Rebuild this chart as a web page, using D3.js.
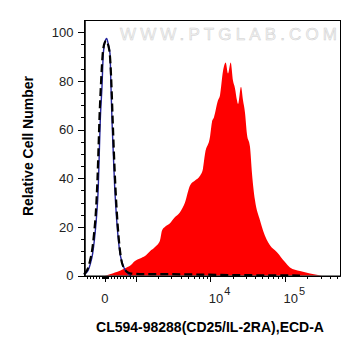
<!DOCTYPE html>
<html>
<head>
<meta charset="utf-8">
<script src="https://cdn.jsdelivr.net/npm/d3@7"></script>
<style>
  html, body { margin: 0; padding: 0; background: #fff; }
  svg { display: block; font-family: "Liberation Sans", Arial, sans-serif; }
</style>
</head>
<body>
<svg id="chart" width="361" height="356"></svg>
<script>
// ---------- data (fluorescence intensity vs relative cell number) ----------
const redX = [0, 163, 326, 489, 652, 815, 978, 1143, 1334, 1556, 1815, 2118, 2254, 2472, 2884, 3365, 3926, 4581, 5346, 6237, 7278, 7980, 8492, 9908, 10520, 11194, 12676, 13466, 14791, 16069, 17258, 18750, 20137, 21380, 22751, 23496, 25763, 27416, 29107, 30974, 33963, 36141, 39628, 46238, 50816, 62951, 78163, 100000, 116681, 158866, 216272, 276694, 313329];
const redY = [0, 0.5, 1.2, 2, 3, 4, 6, 7, 8, 10, 11.7, 14.4, 18.5, 20, 21.5, 24, 26, 30, 37, 39, 41, 44, 50, 57, 63, 65, 72, 74, 84, 87.5, 83, 87.5, 80, 77, 72, 70.5, 77.6, 72, 67, 58, 53, 42, 31, 22.7, 18.5, 12.4, 9.6, 5.5, 3.3, 1.8, 0.8, 0.2, 0];

const blueX = [-684, -619, -544, -473, -401, -342, -284, -218, -186, -153, -98, -55, 0, 55, 108, 163, 196, 228, 271, 316, 381, 433, 489, 570, 652, 750, 847];
const blueY = [0.3, 1, 2.3, 5, 9.1, 15, 22.8, 36.5, 50.2, 63.9, 77.5, 91.2, 96, 97.4, 95, 91.2, 77.5, 63.9, 50.2, 36.5, 22.8, 15, 9.1, 5, 2.3, 0.7, 0];

const dashX = [-684, -619, -554, -489, -424, -358, -293, -244, -212, -179, -130, -81, -16, 42, 98, 163, 212, 251, 293, 342, 407, 473, 538, 619, 717, 847, 1143, 2118, 3926, 7278, 18344, 46238, 158866];
const dashY = [0.5, 1.5, 3, 6, 10, 17, 27, 40, 52, 65, 79, 90, 95.5, 96.5, 95, 90, 78, 64, 50, 36, 22, 12, 6, 3, 1.5, 0.8, 0.6, 0.6, 0.5, 0.4, 0.2, 0.1, 0];

const yMajorTicks = [0, 20, 40, 60, 80, 100];
const yMinorTicks = [5, 10, 15, 25, 30, 35, 45, 50, 55, 65, 70, 75, 85, 90, 95];
const xMajorTicks = [0, 1000, 10000, 100000];
const xMinorTicks = [-600, -500, -400, -300, -200, -100, -60, -30, 30, 60, 100, 200, 300, 400, 500, 600, 700, 800, 900,
  2000, 3000, 4000, 5000, 6000, 7000, 8000, 9000,
  20000, 30000, 40000, 50000, 60000, 70000, 80000, 90000,
  200000, 300000, 400000, 500000];
const xLabelValues = [0, 10000, 100000];
const xLabelBases = ["0", "10", "10"];
const xLabelExps = ["", "4", "5"];
const xDomain = [-684, 546000];
const yDomain = [0, 105];

const xTitle = "CL594-98288(CD25/IL-2RA),ECD-A";
const yTitle = "Relative Cell Number";
const watermark = "WWW.PTGLAB.COM";

// ---------- scales ----------
const L = 0.411; // width of the linear (near zero) part, in decades
function T(v) { return v < 1000 ? (v / 1000) * L : L + Math.log10(v / 1000); }
const xl = d3.scaleLinear().domain([T(xDomain[0]), T(xDomain[1])]).range([84, 340]);
const x = v => xl(T(v));
const y = d3.scaleLinear().domain(yDomain).range([275.5, 20]);

const svg = d3.select("#chart");

// watermark
svg.append("text")
  .attr("x", 120).attr("y", 40)
  .attr("textLength", 217).attr("lengthAdjust", "spacing")
  .attr("font-size", 17)
  .attr("fill", "#f4f4f4").attr("stroke", "#cfcfcf").attr("stroke-width", 0.5)
  .text(watermark);

// red histogram
const redData = redX.map((v, i) => [v, redY[i]]);
svg.append("path")
  .datum(redData)
  .attr("fill", "#ff0000")
  .attr("d", d3.area().x(d => x(d[0])).y0(y(0)).y1(d => y(d[1])).curve(d3.curveMonotoneX));

// blue line
const blueData = blueX.map((v, i) => [v, blueY[i]]);
svg.append("path")
  .datum(blueData)
  .attr("fill", "none").attr("stroke", "#23239b").attr("stroke-width", 1.4)
  .attr("d", d3.line().x(d => x(d[0])).y(d => y(d[1])).curve(d3.curveMonotoneX));

// black dashed line
const dashData = dashX.map((v, i) => [v, dashY[i]]);
svg.append("path")
  .datum(dashData)
  .attr("fill", "none").attr("stroke", "#000").attr("stroke-width", 2.2)
  .attr("stroke-dasharray", "8,4")
  .attr("d", d3.line().x(d => x(d[0])).y(d => y(d[1])).curve(d3.curveMonotoneX));

// frame
svg.append("rect")
  .attr("x", 84.5).attr("y", 20.5).attr("width", 256).attr("height", 255.5)
  .attr("fill", "none").attr("stroke", "#000").attr("stroke-width", 1);

// y axis
const yAxisG = svg.append("g").attr("transform", "translate(84.5,0)")
  .call(d3.axisLeft(y).tickValues(yMajorTicks).tickSize(7).tickSizeOuter(0).tickPadding(4));
yAxisG.selectAll("text").attr("font-size", 13).attr("fill", "#222").attr("font-family", "Liberation Sans, Arial, sans-serif");
svg.append("g").attr("transform", "translate(84.5,0)")
  .call(d3.axisLeft(y).tickValues(yMinorTicks).tickSize(3.5).tickSizeOuter(0).tickFormat(""));

// x axis
svg.append("g").attr("transform", "translate(0,276)")
  .call(d3.axisBottom(xl).tickValues(xMajorTicks.map(T)).tickSize(6).tickSizeOuter(0).tickFormat(""));
svg.append("g").attr("transform", "translate(0,276)")
  .call(d3.axisBottom(xl).tickValues(xMinorTicks.map(T)).tickSize(3).tickSizeOuter(0).tickFormat(""));
svg.selectAll(".domain").attr("stroke", "#000");
svg.selectAll(".tick line").attr("shape-rendering", "crispEdges");

// x labels
xLabelValues.forEach((v, i) => {
  const t = svg.append("text")
    .attr("y", 303).attr("font-size", 13).attr("fill", "#222");
  if (xLabelExps[i] === "") {
    t.attr("x", x(v)).attr("text-anchor", "middle").text(xLabelBases[i]);
  } else {
    t.attr("x", x(v) - 1.5).attr("text-anchor", "start");
    t.append("tspan").text(xLabelBases[i]);
    t.append("tspan").attr("font-size", 11).attr("dy", -8).attr("dx", 1).text(xLabelExps[i]);
  }
});

// titles
svg.append("text")
  .attr("x", 210).attr("y", 332)
  .attr("text-anchor", "middle").attr("font-size", 14).attr("font-weight", "bold")
  .text(xTitle);
svg.append("text")
  .attr("transform", "translate(33,146) rotate(-90)")
  .attr("text-anchor", "middle").attr("font-size", 14).attr("font-weight", "bold")
  .text(yTitle);
</script>
</body>
</html>
